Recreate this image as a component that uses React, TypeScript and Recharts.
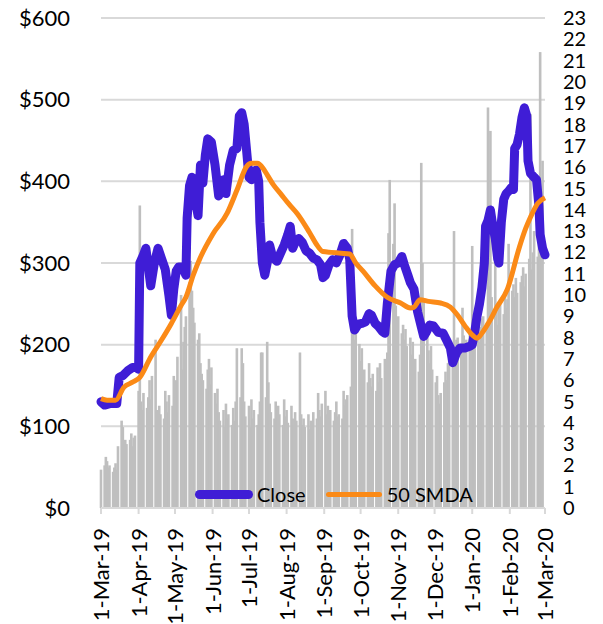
import React from 'react';
import { ComposedChart, Bar, Line, XAxis, YAxis, CartesianGrid, Legend } from 'recharts';

// day index = days since 1-Mar-19
const monthTicks = [0, 31, 61, 92, 122, 153, 184, 214, 245, 275, 306, 337, 366];
const monthLabels = ['1-Mar-19', '1-Apr-19', '1-May-19', '1-Jun-19', '1-Jul-19', '1-Aug-19', '1-Sep-19',
  '1-Oct-19', '1-Nov-19', '1-Dec-19', '1-Jan-20', '1-Feb-20', '1-Mar-20'];

const priceTicks = [0, 100, 200, 300, 400, 500, 600];
const volumeTicks = [0, 1, 2, 3, 4, 5, 6, 7, 8, 9, 10, 11, 12, 13, 14, 15, 16, 17, 18, 19, 20, 21, 22, 23];

// [day, close]
const closePoints = [
  [0, 130], [3, 126], [8, 128], [13, 128], [15, 160], [18, 162], [22, 168], [26, 172], [29, 172], [31, 170],
  [32, 300], [35, 310], [37, 318], [39, 295], [41, 272], [44, 300], [47, 318], [50, 305], [53, 292], [56, 260],
  [58, 236], [60, 268], [62, 290], [64, 295], [67, 295], [70, 285], [71, 355], [73, 395], [75, 405], [78, 375],
  [80, 358], [82, 420], [84, 398], [86, 432], [88, 452], [91, 448], [94, 420], [97, 382], [99, 392], [101, 402],
  [103, 385], [106, 420], [109, 438], [112, 440], [114, 480], [116, 484], [118, 470], [120, 438], [122, 405],
  [124, 402], [126, 412], [128, 414], [130, 400], [131, 350], [133, 300], [135, 285], [137, 300], [139, 322],
  [141, 310], [143, 305], [145, 302], [148, 312], [151, 322], [154, 335], [156, 345], [158, 318], [160, 325],
  [163, 330], [166, 325], [169, 315], [172, 312], [175, 306], [178, 304], [181, 298], [183, 282], [185, 285],
  [188, 298], [191, 304], [194, 300], [197, 310], [200, 324], [203, 318], [205, 305], [207, 235], [209, 218],
  [212, 225], [215, 226], [218, 228], [221, 238], [223, 236], [226, 226], [229, 222], [232, 216], [234, 214],
  [236, 250], [239, 290], [242, 298], [245, 300], [248, 308], [250, 298], [253, 285], [255, 276], [258, 268],
  [261, 240], [264, 222], [266, 210], [268, 215], [271, 224], [274, 223], [278, 215], [282, 214], [285, 205],
  [288, 196], [290, 178], [293, 190], [296, 196], [300, 196], [304, 198], [306, 200], [308, 215], [310, 235],
  [312, 250], [314, 270], [316, 300], [317, 345], [319, 352], [321, 365], [323, 345], [325, 330], [327, 305],
  [328, 300], [330, 350], [332, 378], [334, 385], [336, 388], [338, 392], [340, 390], [341, 440], [343, 445],
  [345, 458], [347, 478], [349, 490], [351, 480], [352, 425], [354, 410], [357, 405], [359, 402], [361, 370],
  [362, 335], [364, 318], [366, 310],
];

// [day, 50 SMDA]
const smaPoints = [
  [0, 134], [5, 132], [12, 132], [19, 148], [26, 154], [32, 160], [41, 185], [50, 206], [58, 226], [66, 248],
  [70, 258], [76, 285], [82, 307], [92, 335], [104, 361], [112, 389], [120, 418], [124, 422], [129, 422],
  [134, 415], [137, 408], [142, 396], [148, 385], [155, 372], [162, 360], [172, 337], [178, 322], [183, 314],
  [190, 313], [198, 312], [205, 311], [210, 300], [216, 290], [226, 272], [236, 258], [247, 251], [255, 245],
  [258, 246], [263, 255], [270, 253], [280, 251], [288, 246], [294, 236], [300, 223], [306, 212], [310, 208],
  [314, 214], [320, 228], [326, 245], [335, 268], [345, 320], [350, 342], [354, 356], [360, 373], [366, 380],
];

// volume (right axis), one row per week starting Friday: Fri, Mon, Tue, Wed, Thu
const weekdayOffsets = [0, 3, 4, 5, 6];
const volumeWeeks = [
  [1.8, 2.0, 2.4, 2.2, 1.9], [2.0, 1.7, 1.9, 2.1, 1.8], [2.9, 4.1, 3.8, 3.0, 3.2], [3.0, 3.2, 3.5, 2.9, 3.3],
  [3.4, 5.5, 14.2, 5.0, 4.6], [5.4, 4.7, 5.2, 6.0, 5.1], [6.2, 7.9, 4.6, 4.3, 4.8], [4.4, 4.2, 5.5, 5.0, 4.5],
  [5.3, 4.8, 6.2, 5.2, 6.0], [7.1, 10.0, 6.5, 7.8, 8.5], [9.0, 10.6, 11.6, 10.2, 9.4], [8.7, 7.9, 8.2, 6.8, 6.3],
  [6.0, 5.6, 6.5, 7.0, 5.8], [6.6, 5.4, 4.9, 5.6, 4.5], [4.1, 4.6, 3.8, 4.9, 4.2], [4.4, 3.9, 4.7, 4.1, 5.0],
  [7.5, 5.2, 7.5, 6.8, 5.0], [4.3, 4.8, 3.8, 5.1, 4.2], [4.6, 3.9, 4.4, 5.0, 7.3], [7.3, 5.2, 7.8, 5.9, 4.9],
  [4.5, 4.2, 5.0, 4.1, 4.8], [4.4, 3.9, 5.1, 4.3, 4.6], [4.0, 4.8, 4.2, 3.9, 4.5], [4.1, 7.3, 4.4, 3.9, 4.2],
  [3.8, 4.4, 3.7, 4.1, 4.0], [4.5, 4.2, 5.4, 4.6, 4.3], [4.9, 5.5, 4.4, 4.8, 4.2], [4.6, 4.1, 4.5, 5.0, 4.3],
  [4.4, 4.2, 5.5, 4.8, 5.1], [5.3, 5.7, 13.1, 8.8, 7.9], [8.4, 7.7, 6.9, 7.5, 6.2], [6.5, 5.9, 6.8, 6.1, 5.7],
  [6.3, 5.5, 6.6, 5.9, 6.8], [6.1, 7.0, 6.4, 7.3, 12.9], [15.4, 12.4, 14.3, 9.5, 8.8], [9.0, 8.2, 8.6, 7.9, 8.4],
  [7.6, 8.0, 7.2, 7.8, 6.9], [7.0, 6.4, 7.2, 16.2, 11.5], [9.8, 8.5, 7.4, 6.8, 7.6], [6.5, 5.9, 6.2, 5.3, 4.9],
  [5.4, 5.9, 6.4, 6.0, 6.8], [7.0, 7.6, 13.0, 7.3, 7.9], [8.0, 7.5, 9.4, 8.1, 7.7], [7.9, 8.3, 8.0, 12.3, 8.4],
  [8.2, 8.6, 7.8, 8.5, 8.9], [9.0, 8.7, 18.8, 10.4, 17.7], [9.9, 12.3, 9.3, 8.6, 9.5], [9.6, 9.1, 10.0, 9.4, 9.8],
  [12.4, 10.2, 10.5, 9.9, 10.8], [10.1, 10.6, 10.9, 11.3, 10.4], [11.0, 11.7, 18.5, 11.2, 12.0],
  [13.0, 11.8, 12.5, 21.4, 13.2], [16.3],
];

const volumeData = volumeWeeks.flatMap((week, k) =>
  week.map((v, j) => ({ d: 7 * k + weekdayOffsets[j], vol: v })));
const closeData = closePoints.map(([d, v]) => ({ d, close: v }));
const smaData = smaPoints.map(([d, v]) => ({ d, sma: v }));

const FONT = 'Lato, sans-serif';
const PURPLE = '#3f1dd6';
const ORANGE = '#fb8a17';

const DateTick = (props: any) => {
  const { x, y, payload } = props;
  const idx = monthTicks.indexOf(payload.value);
  return (
    <text x={0} y={0} dy="0.36em" textAnchor="end" fontSize={22} fontFamily={FONT} fill="#000"
      transform={`translate(${x},${y + 12}) rotate(-90)`}>
      {monthLabels[idx]}
    </text>
  );
};

// wider volume bar, centered on its day
const VolumeBar = (props: any) => {
  const { x, y, width, height, fill } = props;
  if (!height || height <= 0) return null;
  const cx = x + width / 2;
  const w = 2.6;
  return <rect x={cx - w / 2} y={y} width={w} height={height} fill={fill} />;
};

const renderLegend = () => (
  <div style={{ display: 'flex', alignItems: 'center', fontFamily: FONT, fontSize: 20, color: '#000', whiteSpace: 'nowrap' }}>
    <span style={{ display: 'inline-block', width: 58, height: 9, borderRadius: 5, background: PURPLE, marginRight: 4 }} />
    <span style={{ marginRight: 20 }}>Close</span>
    <span style={{ display: 'inline-block', width: 56, height: 5, borderRadius: 3, background: ORANGE, marginRight: 5 }} />
    <span>50 SMDA</span>
  </div>
);

export default function App() {
  return (
    <div style={{ position: 'absolute', left: 0, top: 0, width: 603, height: 624, background: '#fff' }}>
      <ComposedChart width={603} height={624} data={volumeData} margin={{ top: 18, right: 0, bottom: 0, left: 0 }}>
        <CartesianGrid vertical={false} yAxisId="p" stroke="#d9d9d9" strokeWidth={2} />
        <XAxis dataKey="d" type="number" domain={[0, 366]} ticks={monthTicks} height={116}
          tick={<DateTick />} tickSize={6} stroke="#d9d9d9" strokeWidth={2}
          tickLine={{ stroke: '#d9d9d9', strokeWidth: 2 }} interval={0} />
        <YAxis yAxisId="p" orientation="left" width={101} domain={[0, 600]} ticks={priceTicks}
          tickFormatter={(v: number) => `$${v}`} axisLine={false} tickLine={false} tickMargin={25}
          tick={{ fontSize: 22, fontFamily: FONT, fill: '#000' }} interval={0} />
        <YAxis yAxisId="v" orientation="right" width={58} domain={[0, 23]} ticks={volumeTicks}
          axisLine={false} tickLine={false} tickMargin={12}
          tick={{ fontSize: 20, fontFamily: FONT, fill: '#000', textAnchor: 'start' }} interval={0} />
        <Bar yAxisId="v" dataKey="vol" fill="#bfbfbf" shape={<VolumeBar />} isAnimationActive={false} />
        <Line yAxisId="p" data={closeData} dataKey="close" type="linear" stroke={PURPLE} strokeWidth={9}
          strokeLinejoin="round" strokeLinecap="round" dot={false} isAnimationActive={false} />
        <Line yAxisId="p" data={smaData} dataKey="sma" type="monotone" stroke={ORANGE} strokeWidth={5}
          dot={false} isAnimationActive={false} />
        <Legend layout="horizontal" verticalAlign="middle" align="center" content={renderLegend}
          wrapperStyle={{ top: 482, left: 195, width: 300 }} />
      </ComposedChart>
    </div>
  );
}
